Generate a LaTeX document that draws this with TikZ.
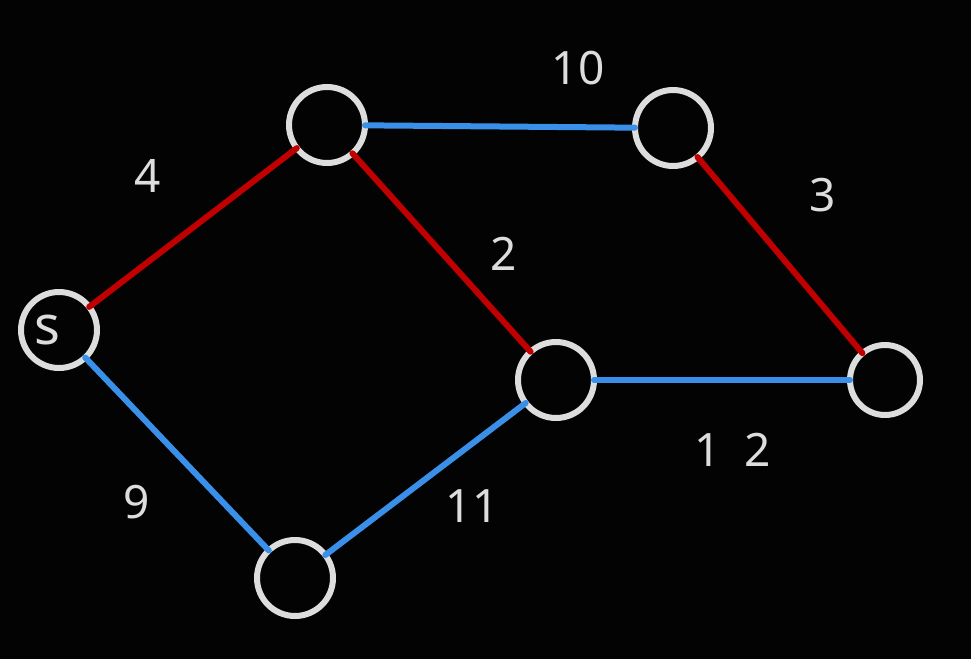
\documentclass[tikz,border=0pt]{standalone}
\usepackage{fontspec}
\setmainfont{Noto Sans}
\definecolor{bgc}{HTML}{030303}
\definecolor{ringc}{HTML}{DDDDDD}
\definecolor{redc}{HTML}{C00000}
\definecolor{bluec}{HTML}{3A90E8}
\tikzset{
  vtx/.style={circle, draw=ringc, line width=6pt, minimum size=#1, inner sep=0pt, outer sep=0pt, text=ringc},
  vtx/.default=76pt,
  redge/.style={draw=redc, line width=6pt, line cap=round},
  bedge/.style={draw=bluec, line width=6pt, line cap=round},
  wlab/.style={text=ringc, font=\fontsize{46}{54}\selectfont, inner sep=0pt}
}
\begin{document}
\begin{tikzpicture}[x=1pt,y=-1pt]
\fill[bgc] (0,0) rectangle (971,659);
\useasboundingbox (0,0) rectangle (971,659);
\node[vtx] (s) at (59,330) {};
\node[text=ringc, font=\fontsize{54}{60}\selectfont, inner sep=0pt] (slab) at (47,330) {s};
\node[vtx] (a) at (327,125) {};
\node[vtx] (b) at (673,128) {};
\node[vtx] (c) at (556,380) {};
\node[vtx=70pt] (d) at (885,380) {};
\node[vtx] (e) at (295,578) {};
\draw[redge] (s) -- (a);
\draw[bedge] (a) -- (b);
\draw[redge] (a) -- (c);
\draw[redge] (b) -- (d);
\draw[bedge] (c) -- (d);
\draw[bedge] (s) -- (e);
\draw[bedge] (e) -- (c);
\node[wlab] (l4) at (148,176) {4};
\node[wlab] (l10) at (578,68) {10};
\node[wlab] (l3) at (823,195) {3};
\node[wlab] (l2) at (504,254) {2};
\node[wlab] (l12) at (733,450) {1\hspace{24pt}2};
\node[wlab] (l9) at (137,502) {9};
\node[wlab] (l11) at (472,506) {11};
\end{tikzpicture}
\end{document}
